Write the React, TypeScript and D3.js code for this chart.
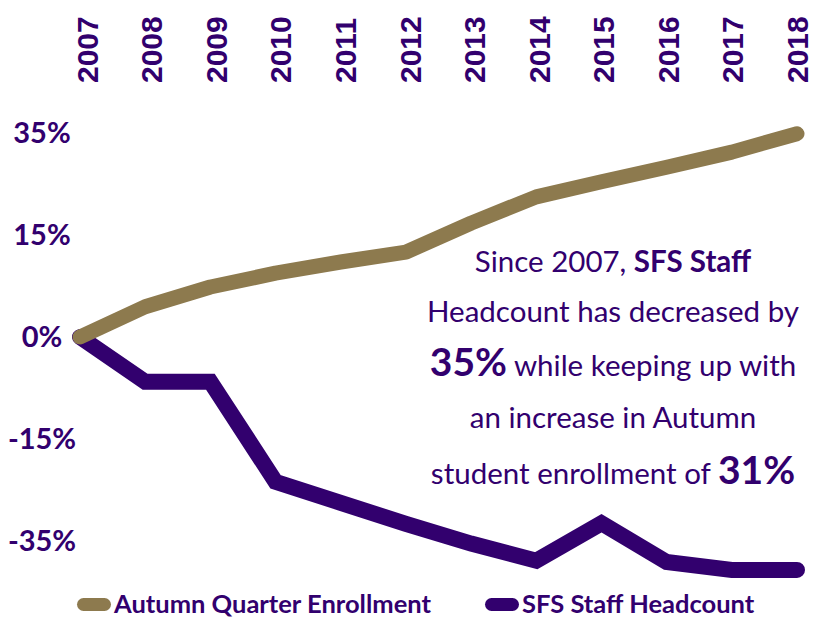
import React, { useEffect, useRef } from 'react';
import * as d3 from 'd3';

const years = ['2007', '2008', '2009', '2010', '2011', '2012', '2013', '2014', '2015', '2016', '2017', '2018'];
const enrollment = [0, 4.6, 7.6, 9.7, 11.4, 12.9, 17.3, 21.3, 23.6, 25.8, 28.1, 30.9];
const staffHeadcount = [0, -6.8, -6.8, -22, -25.2, -28.4, -31.4, -34, -28.3, -34.2, -35.4, -35.4];
const tickValues = [31, 15.5, 0, -15.5, -31];
const tickLabels = ['35%', '15%', '0%', '-15%', '-35%'];
const legendLabels = ['Autumn Quarter Enrollment', 'SFS Staff Headcount'];

const PURPLE = '#32006e';
const GOLD = '#8d7a4e';
const FONT = 'Lato, "Open Sans", sans-serif';

export default function App() {
  const ref = useRef<SVGSVGElement>(null);

  useEffect(() => {
    const svg = d3.select(ref.current);
    svg.selectAll('*').remove();

    const x = d3.scalePoint<string>().domain(years).range([80, 797]);
    const xLabel = d3.scalePoint<string>().domain(years).range([87, 797]);
    const y = d3.scaleLinear().domain([-40, 40]).range([337 + 263.2, 337 - 263.2]);

    // year labels on top, rotated
    svg
      .append('g')
      .selectAll('text')
      .data(years)
      .enter()
      .append('text')
      .attr('transform', (d) => `translate(${xLabel(d)},83) rotate(-90)`)
      .attr('dy', '0.36em')
      .attr('font-family', '"Liberation Sans", Arial, sans-serif')
      .attr('font-weight', 'bold')
      .attr('font-size', 30)
      .attr('fill', PURPLE)
      .text((d) => d);

    // y tick labels
    svg
      .append('g')
      .selectAll('text')
      .data(tickValues)
      .enter()
      .append('text')
      .attr('x', 42)
      .attr('y', (d) => y(d))
      .attr('dy', '0.36em')
      .attr('text-anchor', 'middle')
      .attr('font-family', FONT)
      .attr('font-weight', 'bold')
      .attr('font-size', 29)
      .attr('fill', PURPLE)
      .text((d, i) => tickLabels[i]);

    const line = d3
      .line<number>()
      .x((d, i) => x(years[i])!)
      .y((d) => y(d));

    svg
      .append('path')
      .attr('d', line(staffHeadcount))
      .attr('fill', 'none')
      .attr('stroke', PURPLE)
      .attr('stroke-width', 16)
      .attr('stroke-linecap', 'round')
      .attr('stroke-linejoin', 'miter');

    svg
      .append('path')
      .attr('d', line(enrollment))
      .attr('fill', 'none')
      .attr('stroke', GOLD)
      .attr('stroke-width', 15)
      .attr('stroke-linecap', 'round')
      .attr('stroke-linejoin', 'round');

    // annotation
    const note = svg
      .append('text')
      .attr('text-anchor', 'middle')
      .attr('font-family', FONT)
      .attr('font-size', 29)
      .attr('fill', PURPLE);
    const lines: { t: string; b?: boolean; big?: boolean }[][] = [
      [{ t: 'Since 2007, ' }, { t: 'SFS Staff', b: true }],
      [{ t: 'Headcount has decreased by' }],
      [{ t: '35%', b: true, big: true }, { t: ' while keeping up with' }],
      [{ t: 'an increase in Autumn' }],
      [{ t: 'student enrollment of ' }, { t: '31%', b: true, big: true }],
    ];
    const baselines = [272, 322, 376, 428, 484];
    lines.forEach((parts, i) => {
      const row = note.append('tspan').attr('x', 613).attr('y', baselines[i]);
      parts.forEach((p) => {
        row
          .append('tspan')
          .attr('font-weight', p.b ? 'bold' : 'normal')
          .attr('font-size', p.big ? 39 : 29.5)
          .text(p.t);
      });
    });

    // legend
    const legend = svg.append('g');
    const legendX = [77, 485];
    const legendColors = [GOLD, PURPLE];
    legendLabels.forEach((label, i) => {
      legend
        .append('rect')
        .attr('x', legendX[i])
        .attr('y', 598)
        .attr('width', 34)
        .attr('height', 13)
        .attr('rx', 6.5)
        .attr('fill', legendColors[i]);
      legend
        .append('text')
        .attr('x', legendX[i] + 37)
        .attr('y', 604)
        .attr('dy', '0.36em')
        .attr('font-family', FONT)
        .attr('font-weight', 'bold')
        .attr('font-size', 25.5)
        .attr('fill', PURPLE)
        .text(label);
    });
  }, []);

  return (
    <svg
      ref={ref}
      width={824}
      height={617}
      style={{ position: 'absolute', left: 0, top: 0, background: '#fff' }}
    />
  );
}
